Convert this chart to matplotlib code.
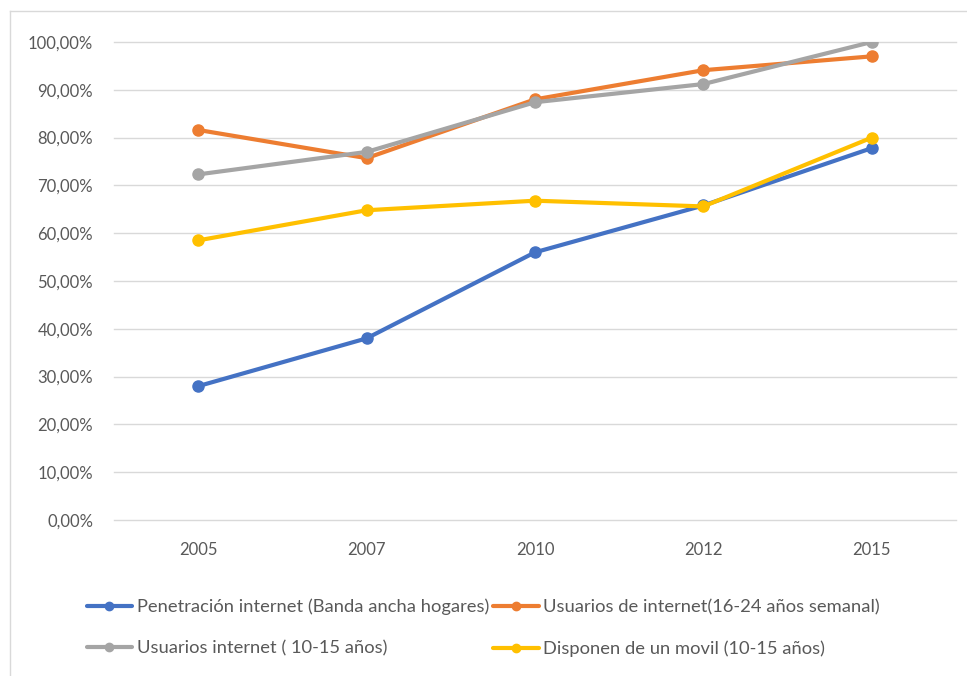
import matplotlib.pyplot as plt
from matplotlib.lines import Line2D
from matplotlib.ticker import FuncFormatter

plt.rcParams['font.family'] = ['Lato', 'DejaVu Sans']

# data
years = ['2005', '2007', '2010', '2012', '2015']
penetracion = [28.0, 38.0, 56.0, 65.8, 77.8]
usuarios_16_24 = [81.6, 75.7, 88.0, 94.1, 97.0]
usuarios_10_15 = [72.3, 77.0, 87.4, 91.2, 100.0]
movil_10_15 = [58.5, 64.8, 66.8, 65.6, 80.0]

labels = ['Penetración internet (Banda ancha hogares)',
          'Usuarios de internet(16-24 años semanal)',
          'Usuarios internet ( 10-15 años)',
          'Disponen de un movil (10-15 años)']
colors = ['#4472C4', '#ED7D31', '#A5A5A5', '#FFC000']
series = [penetracion, usuarios_16_24, usuarios_10_15, movil_10_15]

fig = plt.figure(figsize=(9.67, 6.76), dpi=100)
ax = fig.add_axes([114 / 967, 1 - 520 / 676, 842 / 967, 478 / 676])

x = range(len(years))
handles = []
for vals, c, lab in zip(series, colors, labels):
    h, = ax.plot(x, vals, color=c, lw=3.0, marker='o', ms=8,
                 solid_capstyle='round', label=lab, zorder=3)
    handles.append(h)

ax.set_xlim(-0.5, len(years) - 0.5)
ax.set_ylim(0, 100)
ax.set_yticks(range(0, 101, 10))
ax.yaxis.set_major_formatter(FuncFormatter(lambda v, p: f'{v:.2f}%'.replace('.', ',')))
ax.set_xticks(list(x))
ax.set_xticklabels(years)
ax.grid(axis='y', color='#D9D9D9', lw=1)
for gl in ax.get_ygridlines():
    gl.set_clip_on(False)
ax.set_axisbelow(True)
for s in ax.spines.values():
    s.set_visible(False)
ax.tick_params(length=0, labelsize=12, colors='#595959', pad=15)
ax.tick_params(axis='x', pad=16)

# legend: column-major order so rows read blue/orange, grey/yellow
order = [0, 2, 1, 3]
fig.legend([handles[i] for i in order], [labels[i] for i in order],
           ncol=2, loc='upper left', bbox_to_anchor=(70 / 967, 1 - 582 / 676),
           frameon=False, fontsize=13.2, labelcolor='#595959',
           handlelength=2.5, handletextpad=0.25, columnspacing=0.2,
           labelspacing=1.4, markerscale=0.75)

# light chart frame
fig.add_artist(Line2D([10 / 967, 1], [1 - 11 / 676] * 2, color='#D9D9D9', lw=1,
                      transform=fig.transFigure))
fig.add_artist(Line2D([10 / 967] * 2, [0, 1 - 11 / 676], color='#D9D9D9', lw=1,
                      transform=fig.transFigure))

fig.savefig('out.png', dpi=100)
